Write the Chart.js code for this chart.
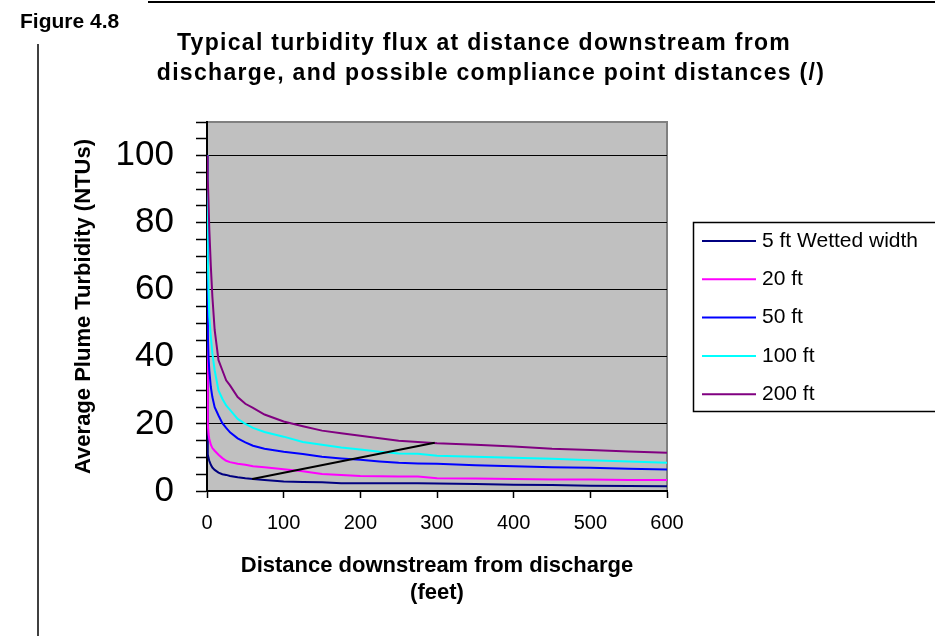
<!DOCTYPE html>
<html>
<head>
<meta charset="utf-8">
<title>Figure 4.8 - Turbidity flux</title>
<script src="https://cdn.jsdelivr.net/npm/chart.js@4.4.1/dist/chart.umd.min.js"></script>
<style>
  html, body { margin: 0; padding: 0; background: #fff; }
  canvas { display: block; }
</style>
</head>
<body>
<canvas id="turbidity" width="935" height="639"></canvas>
<script>
// distance downstream from discharge (ft)
var distances = [0, 1, 2, 3, 5, 7, 10, 15, 20, 25, 30, 40, 50, 60, 75, 100, 125, 150, 175, 200, 225, 250, 275, 300, 350, 400, 450, 500, 550, 600];

// average plume turbidity (NTU) for each wetted width
var width5 = [100, 11, 9.8, 9, 7.8, 7, 6.3, 5.5, 5.0, 4.8, 4.5, 4.1, 3.8, 3.6, 3.3, 2.8, 2.7, 2.6, 2.3, 2.3, 2.3, 2.3, 2.3, 2.2, 2.1, 1.9, 1.8, 1.6, 1.5, 1.4];
var width20 = [100, 20, 17, 15.5, 13.8, 12.8, 12, 10.8, 9.8, 9, 8.6, 8.1, 7.8, 7.4, 7.1, 6.5, 5.9, 5.1, 4.8, 4.5, 4.4, 4.3, 4.3, 3.8, 3.7, 3.6, 3.4, 3.4, 3.3, 3.3];
var width50 = [100, 47, 40, 36, 31, 28, 25, 22.5, 20.2, 18.8, 17.5, 15.7, 14.5, 13.5, 12.6, 11.7, 11.0, 10.2, 9.7, 9.3, 8.8, 8.4, 8.2, 8.1, 7.7, 7.4, 7.1, 6.9, 6.6, 6.4];
var width100 = [100, 70, 60, 52, 46, 41, 36, 30, 27.5, 25.5, 24.2, 21.5, 20, 18.8, 17.6, 16.2, 14.6, 13.8, 13.0, 12.4, 11.7, 11.2, 11.1, 10.5, 10.2, 9.9, 9.6, 9.2, 8.8, 8.4];
var width200 = [100, 93, 86, 78, 67, 58, 48, 39, 36, 33, 31.5, 28, 26, 24.8, 22.8, 20.7, 19.3, 18.0, 17.2, 16.5, 15.7, 15.0, 14.6, 14.2, 13.8, 13.3, 12.6, 12.2, 11.8, 11.4];

// compliance point line (/)
var complianceDistances = [59, 297];
var complianceTurbidity = [3.6, 14.4];

var seriesLabels = ['5 ft Wetted width', '20 ft', '50 ft', '100 ft', '200 ft'];
var seriesValues = [width5, width20, width50, width100, width200];
var seriesColors = ['#000080', '#ff00ff', '#0000ff', '#00ffff', '#800080'];

var yLabelValues = [0, 20, 40, 60, 80, 100];
var figureLabel = 'Figure 4.8';
var titleLines = ['Typical turbidity flux at distance downstream from', 'discharge, and possible compliance point distances (/)'];
var xTitle = ['Distance downstream from discharge', '(feet)'];
var yTitle = 'Average Plume Turbidity (NTUs)';

var FONT = '"Liberation Sans", Arial, sans-serif';

function points(xs, ys) {
  return xs.map(function (x, i) {
    return { x: x, y: ys[i] };
  });
}

// index 0 is painted last, so the compliance line goes first and 200 ft next
var datasets = [{
  label: 'compliance',
  data: points(complianceDistances, complianceTurbidity),
  borderColor: '#000000',
  borderWidth: 2,
  pointRadius: 0,
  tension: 0
}];
for (var i = seriesLabels.length - 1; i >= 0; i--) {
  datasets.push({
    label: seriesLabels[i],
    data: points(distances, seriesValues[i]),
    borderColor: seriesColors[i],
    borderWidth: 2,
    pointRadius: 0,
    tension: 0
  });
}

// grey plot area like the spreadsheet chart
var plotBackground = {
  id: 'plotBackground',
  beforeDraw: function (chart) {
    var a = chart.chartArea;
    var c = chart.ctx;
    c.save();
    c.fillStyle = '#c0c0c0';
    c.fillRect(a.left, a.top, a.right - a.left, a.bottom - a.top);
    c.strokeStyle = '#808080';
    c.lineWidth = 2;
    c.beginPath();
    c.moveTo(a.left, a.top);
    c.lineTo(a.right, a.top);
    c.lineTo(a.right, a.bottom);
    c.stroke();
    c.restore();
  }
};

var legendBox = {
  id: 'legendBox',
  afterDraw: function (chart) {
    var c = chart.ctx;
    c.save();
    c.fillStyle = '#ffffff';
    c.fillRect(693, 222, 250, 190);
    c.strokeStyle = '#000000';
    c.lineWidth = 1.5;
    c.strokeRect(693.5, 222.5, 250, 189);
    c.font = '21px ' + FONT;
    c.textAlign = 'left';
    c.textBaseline = 'middle';
    for (var i = 0; i < seriesLabels.length; i++) {
      var y = 241 + i * 38.3;
      c.strokeStyle = seriesColors[i];
      c.lineWidth = 2;
      c.beginPath();
      c.moveTo(702, y);
      c.lineTo(756, y);
      c.stroke();
      c.fillStyle = '#000000';
      c.fillText(seriesLabels[i], 762, y);
    }
    c.restore();
  }
};

// figure number, two line heading and the page rules
var pageText = {
  id: 'pageText',
  afterDraw: function (chart) {
    var c = chart.ctx;
    c.save();
    c.strokeStyle = '#000000';
    c.lineWidth = 2;
    c.beginPath();
    c.moveTo(148, 2);
    c.lineTo(935, 2);
    c.stroke();
    c.lineWidth = 1.5;
    c.beginPath();
    c.moveTo(38, 44);
    c.lineTo(38, 636);
    c.stroke();

    c.fillStyle = '#000000';
    c.textBaseline = 'middle';
    c.textAlign = 'left';
    c.font = 'bold 21px ' + FONT;
    c.fillText(figureLabel, 20, 22);

    c.textAlign = 'center';
    c.font = 'bold 23px ' + FONT;
    c.letterSpacing = '1.3px';
    c.fillText(titleLines[0], 484, 44);
    c.fillText(titleLines[1], 491, 74);
    c.restore();
  }
};

var ctx = document.getElementById('turbidity').getContext('2d');

new Chart(ctx, {
  type: 'line',
  data: { datasets: datasets },
  options: {
    responsive: false,
    animation: false,
    layout: { padding: { left: 0, top: 122, right: 268, bottom: 0 } },
    plugins: {
      legend: { display: false },
      tooltip: { enabled: false }
    },
    scales: {
      x: {
        type: 'linear',
        min: 0,
        max: 600,
        ticks: {
          stepSize: 100,
          autoSkip: false,
          maxRotation: 0,
          color: '#000000',
          padding: 13,
          font: { family: FONT, size: 20 }
        },
        grid: {
          drawOnChartArea: false,
          drawTicks: true,
          tickLength: 7,
          tickColor: '#000000',
          tickWidth: 1.5
        },
        border: { color: '#000000', width: 2 },
        title: {
          display: true,
          text: xTitle,
          color: '#000000',
          font: { family: FONT, size: 22, weight: 'bold', lineHeight: 1.25 },
          padding: { top: 0, bottom: 32 }
        },
        afterFit: function (scale) { scale.height = 148; }
      },
      y: {
        min: 0,
        max: 110,
        ticks: {
          stepSize: 5,
          autoSkip: false,
          color: '#000000',
          padding: 22,
          font: { family: FONT, size: 35 },
          callback: function (v) {
            return yLabelValues.indexOf(v) >= 0 ? v : '';
          }
        },
        grid: {
          color: function (c) {
            return (c.tick && yLabelValues.indexOf(c.tick.value) > 0) ? '#000000' : 'rgba(0,0,0,0)';
          },
          lineWidth: 1,
          tickColor: '#000000',
          tickLength: 11,
          tickWidth: 1.5
        },
        border: { color: '#000000', width: 2 },
        title: {
          display: true,
          text: yTitle,
          color: '#000000',
          font: { family: FONT, size: 22, weight: 'bold' },
          padding: { top: 71, bottom: 0 }
        },
        afterFit: function (scale) { scale.width = 207; }
      }
    }
  },
  plugins: [plotBackground, legendBox, pageText]
});
</script>
</body>
</html>
